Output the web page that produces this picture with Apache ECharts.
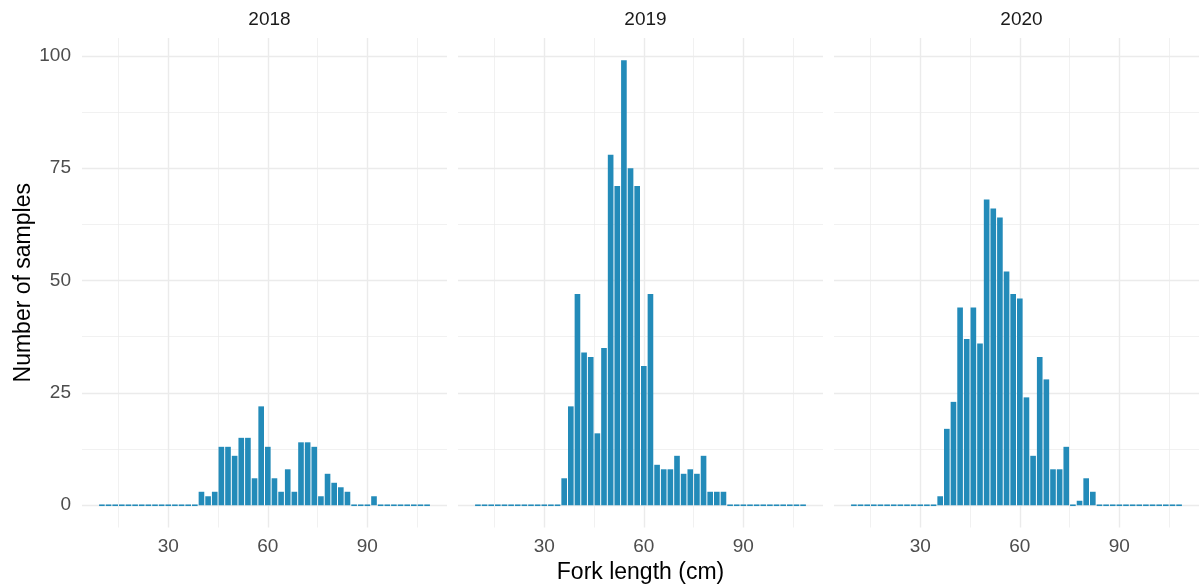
<!DOCTYPE html>
<html><head><meta charset="utf-8">
<script src="https://cdn.jsdelivr.net/npm/echarts@6/dist/echarts.min.js"></script>
<style>html,body{margin:0;padding:0;background:#fff}#c{width:1200px;height:588px}</style>
</head><body><div id="c"></div><script>
const years = ['2018', '2019', '2020'];
const binCenters = [10,12,14,16,18,20,22,24,26,28,30,32,34,36,38,40,42,44,46,48,50,52,54,56,58,60,62,64,66,68,70,72,74,76,78,80,82,84,86,88,90,92,94,96,98,100,102,104,106,108];
const binWidth = 2;
const counts2018 = [0,0,0,0,0,0,0,0,0,0,0,0,0,0,0,3,2,3,13,13,11,15,15,6,22,13,6,3,8,3,14,14,13,2,7,5,4,3,0,0,0,2,0,0,0,0,0,0,0,0];
const counts2019 = [0,0,0,0,0,0,0,0,0,0,0,0,0,6,22,47,34,33,16,35,78,71,99,75,71,31,47,9,8,8,11,7,8,7,11,3,3,3,0,0,0,0,0,0,0,0,0,0,0,0];
const counts2020 = [0,0,0,0,0,0,0,0,0,0,0,0,0,2,17,23,44,37,44,36,68,66,64,52,47,46,24,11,33,28,8,8,13,0,1,6,3,0,0,0,0,0,0,0,0,0,0,0,0,0];
const xTicks = [30, 60, 90];
const xMinor = [15, 45, 75, 105];
const yTicks = [0, 25, 50, 75, 100];
const yMinor = [12.5, 37.5, 62.5, 87.5];
const xTitle = 'Fork length (cm)';
const yTitle = 'Number of samples';

(function () {
const allCounts = [counts2018, counts2019, counts2020];
const FONT = "'Liberation Sans', Arial, sans-serif";
const BAR = '#238bb9';
const GRID_C = '#ebebeb';
const panelLeft = [82, 458, 834];
const panelW = 365;
const gTop = 38, gHeight = 489.5;

const chart = echarts.init(document.getElementById('c'), null, {renderer: 'canvas'});

function renderItem(params, api) {
  const x = api.value(0), y = api.value(1);
  const p0 = api.coord([x - binWidth / 2, y]);
  const p1 = api.coord([x + binWidth / 2, 0]);
  const left = p0[0] + 0.5, w = p1[0] - p0[0] - 1;
  let t = p0[1], h = p1[1] - p0[1];
  if (h < 1.6) { t = p1[1] - 0.8; h = 1.6; }
  return {type: 'rect', shape: {x: left, y: t, width: w, height: h}, style: {fill: BAR}};
}

const grid = [], xAxis = [], yAxis = [], series = [], title = [];
years.forEach((yr, i) => {
  grid.push({left: panelLeft[i], top: gTop, width: panelW, height: gHeight, outerBoundsMode: 'none', containLabel: false});
  xAxis.push({
    type: 'value', gridIndex: i, min: 4, max: 114,
    axisLine: {show: false}, axisTick: {show: false}, splitLine: {show: false},
    axisLabel: {customValues: xTicks, color: '#4d4d4d', fontSize: 19, fontFamily: FONT, margin: 10},
    name: i === 1 ? xTitle : '', nameLocation: 'middle', nameGap: 32,
    nameTextStyle: {color: '#000', fontSize: 23, fontFamily: FONT}
  });
  yAxis.push({
    type: 'value', gridIndex: i, min: -4.95, max: 103.95,
    axisLine: {show: false}, axisTick: {show: false}, splitLine: {show: false},
    axisLabel: {show: i === 0, customValues: yTicks, color: '#4d4d4d', fontSize: 19, fontFamily: FONT, margin: 11},
    name: i === 0 ? yTitle : '', nameLocation: 'middle', nameRotate: 90, nameGap: 44,
    nameTextStyle: {color: '#000', fontSize: 23, fontFamily: FONT}
  });
  const lines = [];
  xMinor.forEach(v => lines.push({xAxis: v, lineStyle: {width: 0.7, color: GRID_C, type: 'solid'}}));
  yMinor.forEach(v => lines.push({yAxis: v, lineStyle: {width: 0.7, color: GRID_C, type: 'solid'}}));
  xTicks.forEach(v => lines.push({xAxis: v, lineStyle: {width: 1.4, color: GRID_C, type: 'solid'}}));
  yTicks.forEach(v => lines.push({yAxis: v, lineStyle: {width: 1.4, color: GRID_C, type: 'solid'}}));
  series.push({
    type: 'line', xAxisIndex: i, yAxisIndex: i, data: [], z: 0, silent: true, animation: false,
    markLine: {z: 0, silent: true, symbol: ['none', 'none'], label: {show: false}, animation: false, data: lines}
  });
  series.push({
    type: 'custom', xAxisIndex: i, yAxisIndex: i, z: 10, animation: false,
    renderItem: renderItem,
    data: binCenters.map((c, k) => [c, allCounts[i][k]])
  });
  title.push({
    text: yr, left: panelLeft[i] + panelW / 2, top: 5, textAlign: 'center',
    textStyle: {color: '#1a1a1a', fontSize: 19, fontWeight: 'normal', fontFamily: FONT}
  });
});

chart.setOption({animation: false, backgroundColor: '#fff', title, grid, xAxis, yAxis, series});
})();
</script></body></html>
